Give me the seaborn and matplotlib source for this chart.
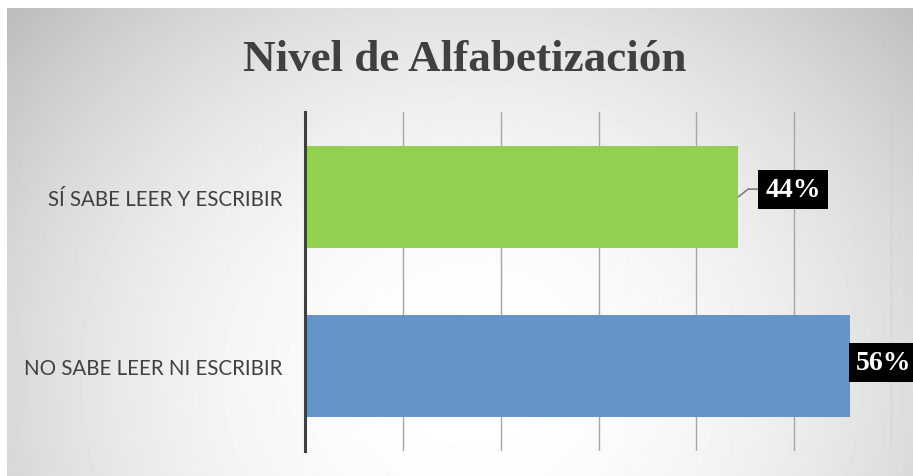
import numpy as np
import pandas as pd
import matplotlib
matplotlib.use("Agg")
import matplotlib.pyplot as plt
import seaborn as sns

# chart data
categories = ["SÍ SABE LEER Y ESCRIBIR", "NO SABE LEER NI ESCRIBIR"]
values = [0.443, 0.557]
value_labels = ["44%", "56%"]
bar_colors = ["#92d050", "#6594c8"]
title = "Nivel de Alfabetización"

sns.set_theme(style="white")
plt.rcParams["font.family"] = ["Lato", "DejaVu Sans"]

W, H = 913, 477
fig = plt.figure(figsize=(W / 100, H / 100), dpi=100)
fig.patch.set_facecolor("white")

# radial grey background like the excel chart area
bg = fig.add_axes([7 / W, 0, 1 - 7 / W, 1 - 9 / H])
bg.set_axis_off()
yy, xx = np.mgrid[0:468, 0:906]
d = np.hypot(xx - 463, (yy - 371) * 1.1) / 590
shade = np.clip(255 - 62 * d ** 2, 190, 255) / 255
bg.imshow(shade, cmap="gray", vmin=0, vmax=1, aspect="auto", interpolation="bilinear")

# main plot
ax = fig.add_axes([305 / W, 1 - 452 / H, (892 - 305) / W, (452 - 113) / H])
ax.patch.set_alpha(0)

df = pd.DataFrame({"cat": categories, "val": values})
sns.barplot(data=df, x="val", y="cat", hue="cat", palette=bar_colors,
            width=0.6, ax=ax, legend=False, saturation=1, linewidth=0, zorder=2)

ax.set_ylim(1.5, -0.5)
ax.set_xlim(0, 0.6)
ax.set_xticks(np.arange(0.1, 0.61, 0.1))
ax.xaxis.grid(True, color="#a6a6a6", lw=1.0)
ax.set_axisbelow(True)
ax.tick_params(axis="x", length=0, labelbottom=False)
ax.tick_params(axis="y", length=0, pad=16, labelsize=14.8, labelcolor="#404040")
ax.set_xlabel("")
ax.set_ylabel("")
for s in ["top", "right", "bottom"]:
    ax.spines[s].set_visible(False)
ax.spines["left"].set_color("#404040")
ax.spines["left"].set_linewidth(2.2)

# data labels in black boxes
lab_font = dict(family="Liberation Serif", weight="bold", size=20, color="white")
box = dict(boxstyle="square,pad=0.25", fc="black", ec="none")
v0 = values[0]
ax.plot([v0, v0 + 0.01, v0 + 0.021], [0, -0.045, -0.045], color="#7f7f7f", lw=1.2,
        zorder=3, clip_on=False)
ax.text(v0 + 0.056, -0.045, value_labels[0], ha="center", va="center",
        bbox=box, zorder=4, clip_on=False, **lab_font)
v1 = values[1]
ax.text(v1 + 0.006, 0.98, value_labels[1], ha="left", va="center",
        bbox=box, zorder=4, clip_on=False, **lab_font)

fig.text(465 / W, 1 - 71 / H, title, ha="center", va="baseline",
         family="Liberation Serif", weight="bold", size=32.5, color="#404040")

fig.savefig("out.png", dpi=100)
